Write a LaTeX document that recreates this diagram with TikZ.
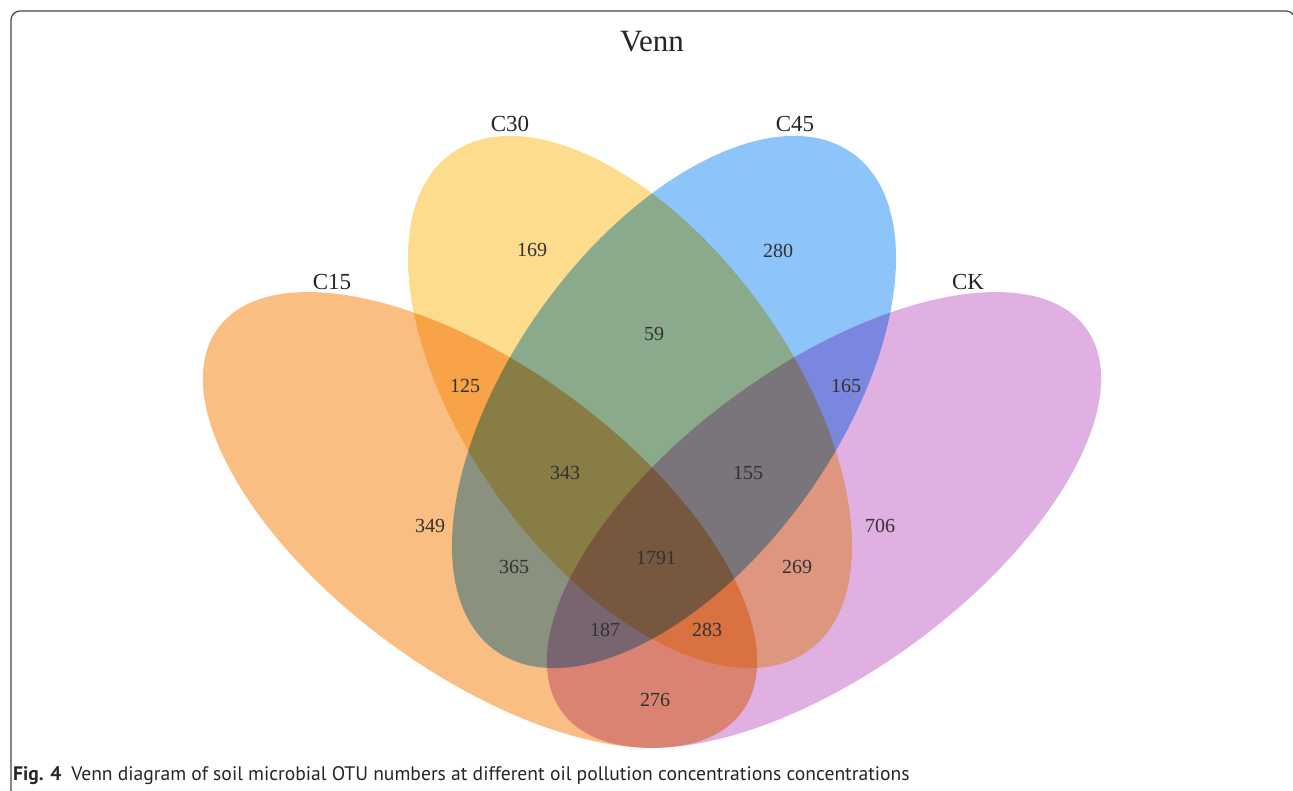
\documentclass[tikz,border=0pt]{standalone}
\usepackage{fontspec}
\setmainfont{Liberation Serif}
\newfontfamily\capfont{PT Sans}
\usetikzlibrary{positioning}
\definecolor{cfifteen}{RGB}{250, 190, 130}
\definecolor{cthirty}{RGB}{253, 220, 142}
\definecolor{cfortyfive}{RGB}{141, 197, 250}
\definecolor{cck}{RGB}{224, 176, 227}
\definecolor{numtext}{RGB}{50, 50, 50}
\definecolor{framegray}{RGB}{70, 70, 70}

\begin{document}
\begin{tikzpicture}[x=1pt, y=1pt,
  setname/.style={font=\fontsize{23}{23}\selectfont, text=black!85, inner sep=0pt},
  count/.style={font=\fontsize{20}{20}\selectfont, text=numtext, inner sep=0pt}]
\useasboundingbox (0,0) rectangle (1293,791);
\fill [white] (0,0) rectangle (1293,791);
% frame of the figure
\begin{scope}
\clip (0,0) rectangle (1293,791);
\draw [framegray, line width=1.2pt, rounded corners=9pt] (11,-40) -- (11,780) -- (1295,780) -- (1295,-40);
\end{scope}
% the four sets
\begin{scope}[blend group=multiply]
\fill [cfifteen, rotate around={-36.2:(480,271)}] (480,271) ellipse [x radius=324.7, y radius=152.6];
\fill [cck, rotate around={36.2:(824,271)}] (824,271) ellipse [x radius=324.7, y radius=152.6];
\fill [cthirty, rotate around={-54.3:(630,389)}] (630,389) ellipse [x radius=306.1, y radius=162.4];
\fill [cfortyfive, rotate around={54.3:(674,389)}] (674,389) ellipse [x radius=306.1, y radius=162.4];
\end{scope}
\node (title) [font=\fontsize{31}{31}\selectfont, text=black!85, inner sep=0pt] at (652, 749) {Venn};
\node (c30) [setname] at (510, 667) {C30};
\node (c45) [setname] at (795, 667) {C45};
\node (c15) [setname] at (332, 509) {C15};
\node (ck) [setname] at (968, 509) {CK};
\node (n169) [count] at (532, 541) {169};
\node (n280) [count] at (778, 540) {280};
\node (n59) [count] at (654, 457) {59};
\node (n125) [count] at (465, 405) {125};
\node (n165) [count] at (846, 405) {165};
\node (n343) [count] at (565, 318) {343};
\node (n155) [count] at (748, 318) {155};
\node (n349) [count] at (430, 265) {349};
\node (n706) [count] at (880, 265) {706};
\node (n365) [count] at (514, 224) {365};
\node (n1791) [count] at (656, 233) {1791};
\node (n269) [count] at (797, 224) {269};
\node (n187) [count] at (605, 161) {187};
\node (n283) [count] at (707, 161) {283};
\node (n276) [count] at (655, 91) {276};
% caption
\node (caption) [anchor=base west, inner sep=0pt, text=black!85, font=\capfont\fontsize{19.6}{20}\selectfont] at (13, 10)
  {\textbf{Fig. 4}\hspace{0.5em}Venn diagram of soil microbial OTU numbers at different oil pollution concentrations concentrations};
\end{tikzpicture}
\end{document}
